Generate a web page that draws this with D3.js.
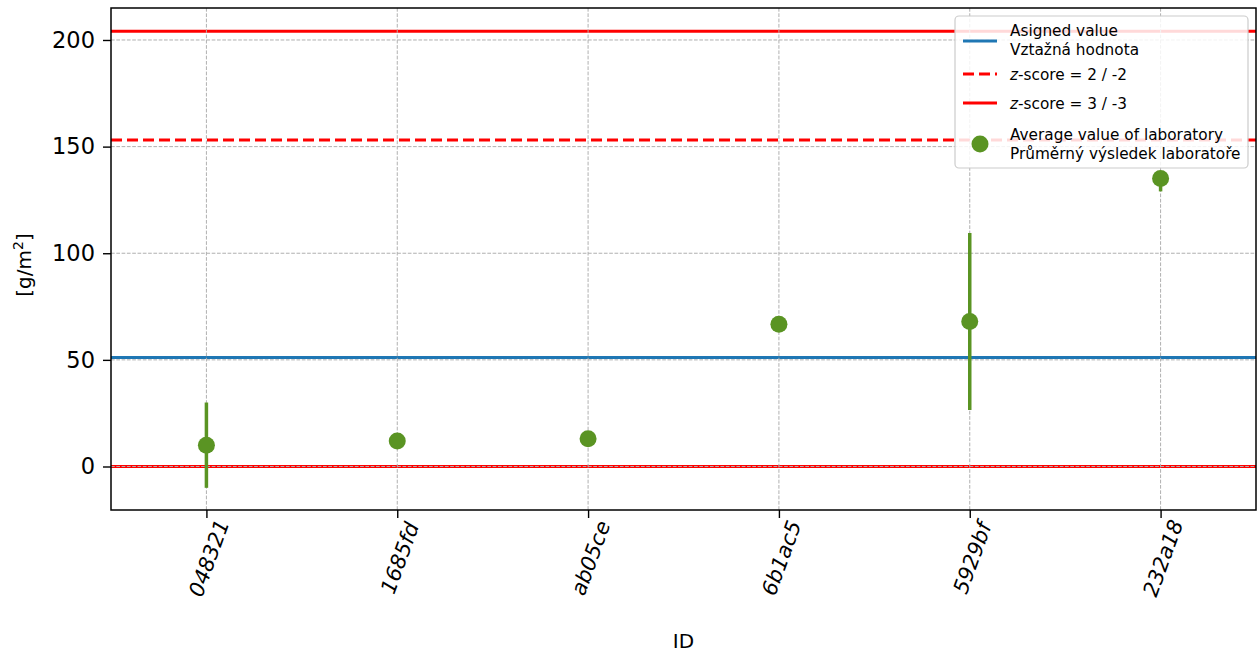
<!DOCTYPE html>
<html><head><meta charset="utf-8">
<script src="https://cdn.jsdelivr.net/npm/d3@7"></script>
<style>body{margin:0;background:#fff}svg{display:block}</style>
</head><body><svg id="c" width="1260" height="657"></svg>
<script>
const ids = ["048321","1685fd","ab05ce","6b1ac5","5929bf","232a18"];
const means = [10, 12, 13, 66.7, 68, 135];
const lows = [-10, 12, 13, 66.7, 26.5, 129];
const highs = [30, 12, 13, 66.7, 109.5, 137];
const assigned = 51.1;
const z2 = [153.1, 0];
const z3 = [204.1, 0];
const yTicks = [0, 50, 100, 150, 200];
const legendLabels = [["Asigned value","Vztažná hodnota"],["z-score = 2 / -2"],["z-score = 3 / -3"],["Average value of laboratory","Průměrný výsledek laboratoře"]];

const svg = d3.select("#c");
const L = 111, R = 1256, T = 8, B = 510;
const x = d3.scalePoint().domain(ids).range([L, R]).padding(0.5);
const y = d3.scaleLinear().domain([-20.4, 215]).range([B, T]);
const green = "#5a9423", red = "#ff0000", blue = "#1f77b4";
const font = "DejaVu Sans";

const g = svg.append("g");
const hl = (v, color, dash) => g.append("line").attr("x1", L).attr("x2", R)
  .attr("y1", y(v)).attr("y2", y(v)).attr("stroke", color).attr("stroke-width", 3)
  .attr("stroke-dasharray", dash || null);
hl(assigned, blue);
z2.forEach(v => hl(v, red, "11,5"));
z3.forEach(v => hl(v, red));

const grid = svg.append("g").attr("stroke", "#b0b0b0").attr("stroke-width", 1).attr("stroke-dasharray", "3.7,1.6");
yTicks.forEach(t => grid.append("line").attr("x1", L).attr("x2", R).attr("y1", y(t)).attr("y2", y(t)));
ids.forEach(id => grid.append("line").attr("y1", T).attr("y2", B).attr("x1", x(id)).attr("x2", x(id)));

const data = ids.map((id, i) => ({id, m: means[i], lo: lows[i], hi: highs[i]}));
svg.append("g").selectAll("line").data(data).join("line")
  .attr("x1", d => x(d.id)).attr("x2", d => x(d.id))
  .attr("y1", d => y(d.lo)).attr("y2", d => y(d.hi))
  .attr("stroke", green).attr("stroke-width", 3.5);
svg.append("g").selectAll("circle").data(data).join("circle")
  .attr("cx", d => x(d.id)).attr("cy", d => y(d.m)).attr("r", 8.5).attr("fill", green);

const yAxis = svg.append("g").attr("transform", `translate(${L},0)`)
  .call(d3.axisLeft(y).tickValues(yTicks).tickSize(8).tickPadding(8));
yAxis.select(".domain").remove();
yAxis.selectAll("line").attr("stroke-width", 1.4);
yAxis.selectAll("text").attr("font-family", font).attr("font-size", 22.5).attr("fill", "#000");

const xAxis = svg.append("g").attr("transform", `translate(0,${B})`)
  .call(d3.axisBottom(x).tickSize(8).tickPadding(6));
xAxis.select(".domain").remove();
xAxis.selectAll("line").attr("stroke-width", 1.4);
xAxis.selectAll("text").attr("font-family", font).attr("font-size", 21).attr("font-style", "italic")
  .attr("fill", "#000").attr("text-anchor", "middle").attr("dy", "0.35em")
  .attr("transform", "translate(2,48) rotate(-70)").attr("y", 0).attr("x", 0);

svg.append("rect").attr("x", L).attr("y", T).attr("width", R - L).attr("height", B - T)
  .attr("fill", "none").attr("stroke", "#000").attr("stroke-width", 1.5);

svg.append("text").attr("x", (L + R) / 2).attr("y", 648).attr("text-anchor", "middle")
  .attr("font-family", font).attr("font-size", 20).text("ID");
const yl = svg.append("text").attr("transform", `translate(31,265) rotate(-90)`)
  .attr("text-anchor", "middle").attr("font-family", font).attr("font-size", 20);
yl.append("tspan").text("[g/m");
yl.append("tspan").attr("dy", -8).attr("font-size", 14).text("2");
yl.append("tspan").attr("dy", 8).text("]");

const lg = svg.append("g").attr("font-family", font).attr("font-size", 15.3);
lg.append("rect").attr("x", 955).attr("y", 16).attr("width", 293).attr("height", 152).attr("rx", 4)
  .attr("fill", "#fff").attr("fill-opacity", 0.85).attr("stroke", "#cccccc").attr("stroke-width", 1.2);
const lx1 = 963, lx2 = 997, tx = 1010;
lg.append("line").attr("x1", lx1).attr("x2", lx2).attr("y1", 41).attr("y2", 41).attr("stroke", blue).attr("stroke-width", 3);
lg.append("line").attr("x1", lx1).attr("x2", lx2).attr("y1", 74).attr("y2", 74).attr("stroke", red).attr("stroke-width", 3).attr("stroke-dasharray", "11,5");
lg.append("line").attr("x1", lx1).attr("x2", lx2).attr("y1", 103).attr("y2", 103).attr("stroke", red).attr("stroke-width", 3);
lg.append("circle").attr("cx", 980).attr("cy", 144).attr("r", 8.5).attr("fill", green);
const addText = (yy, parts) => {
  const t = lg.append("text").attr("x", tx).attr("y", yy);
  parts.forEach(p => t.append("tspan").attr("font-style", p[1] ? "italic" : null).text(p[0]));
};
addText(36, [[legendLabels[0][0]]]);
addText(55, [[legendLabels[0][1]]]);
addText(80, [["z", true], [legendLabels[1][0].slice(1)]]);
addText(109, [["z", true], [legendLabels[2][0].slice(1)]]);
addText(140, [[legendLabels[3][0]]]);
addText(159, [[legendLabels[3][1]]]);
</script></body></html>
